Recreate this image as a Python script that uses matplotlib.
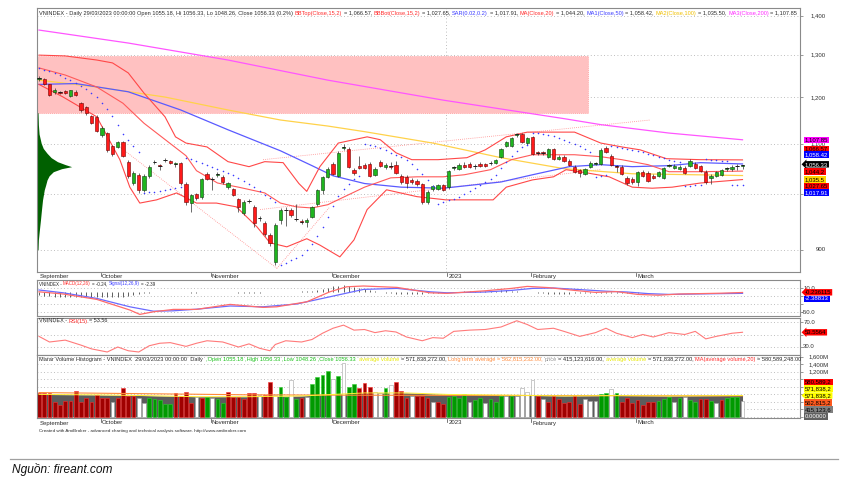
import numpy as np
import matplotlib
matplotlib.use("Agg")
import matplotlib.pyplot as plt
from matplotlib.patches import Rectangle
from matplotlib.lines import Line2D
from matplotlib.transforms import blended_transform_factory

W, H = 842, 478
FONT = 'Liberation Sans'
plt.rcParams['font.family'] = [FONT, 'DejaVu Sans']

# ---------------- data ----------------
opens = [1243,1242,1230,1212,1212,1214,1203,1213,1187,1178,
         1159,1157,1117,1122,1095,1093,1103,1063,1021,1037,
         1008,1035,1062,1056,1066,1065,1058,1060,1020,983,
         1000,994,1039,1029,1037,1033,1013,1010,991,965,
         986,976,955,946,926,880,952,970,971,954,
         950,948,957,982,1008,1033,1059,1035,1091,1089,
         1047,1055,1057,1059,1037,1063,1052,1054,1056,1035,
         1033,1027,1025,1019,985,1010,1010,1017,1013,1051,
         1049,1057,1059,1054,1059,1059,1060,1060,1073,1095,
         1095,1118,1120,1101,1113,1082,1082,1073,1089,1069,
         1073,1065,1053,1047,1039,1053,1059,1059,1091,1075,
         1054,1053,1031,1029,1023,1043,1041,1035,1035,1031,
         1055,1051,1049,1051,1055,1059,1055,1043,1031,1035,
         1037,1049,1049,1054,1055.18]
highs = [1250,1246,1232,1221,1215,1216,1218,1216,1190,1180,
         1162,1160,1136,1125,1098,1106,1106,1066,1044,1040,
         1038,1056,1066,1058,1070,1067,1063,1062,1022,1000,
         1002,1031,1042,1033,1042,1036,1023,1012,993,988,
         990,979,960,950,929,946,973,975,973,982,
         953,955,977,1010,1035,1052,1062,1085,1100,1092,
         1050,1075,1060,1062,1052,1066,1060,1063,1064,1038,
         1036,1030,1028,1021,1007,1018,1020,1020,1047,1055,
         1060,1063,1062,1058,1062,1061,1064,1069,1091,1105,
         1113,1122,1123,1114,1115,1085,1084,1091,1091,1076,
         1076,1068,1056,1049,1051,1064,1063,1090,1094,1078,
         1057,1056,1034,1032,1045,1046,1044,1038,1045,1053,
         1059,1058,1056,1054,1068,1062,1057,1046,1038,1045,
         1049,1053,1056,1058,1056.33]
lows = [1238,1228,1203,1208,1208,1207,1200,1203,1168,1162,
        1141,1124,1113,1083,1075,1090,1072,1030,1018,1002,
        1004,1030,1058,1046,1062,1058,1052,1018,980,966,
        988,990,1026,1008,1033,1020,1010,996,966,962,
        983,939,950,924,907,874,945,942,958,950,
        945,940,955,978,1000,1030,1036,1033,1086,1050,
        1036,1048,1048,1032,1034,1052,1049,1049,1038,1019,
        1012,1020,1016,982,982,1006,1008,1005,1010,1046,
        1046,1050,1050,1048,1052,1052,1056,1058,1070,1092,
        1093,1114,1101,1098,1076,1076,1077,1070,1066,1066,
        1062,1054,1040,1033,1036,1050,1056,1057,1080,1054,
        1042,1036,1018,1020,1016,1032,1022,1028,1032,1029,
        1052,1048,1046,1038,1052,1048,1042,1020,1020,1032,
        1034,1045,1044,1046,1048.26]
closes = [1245,1230,1206,1218,1211,1210,1216,1205,1172,1166,
          1144,1127,1133,1087,1079,1103,1075,1035,1041,1008,
          1035,1053,1063,1054,1067,1061,1060,1021,985,998,
          993,1029,1029,1028,1039,1023,1021,998,976,985,
          987,947,956,928,911,943,971,971,961,953,
          948,952,975,1008,1033,1049,1039,1081,1093,1053,
          1041,1051,1051,1035,1049,1055,1057,1053,1041,1022,
          1021,1023,1019,985,1004,1016,1017,1008,1045,1052,
          1057,1053,1053,1055,1055,1055,1061,1067,1089,1103,
          1111,1120,1104,1111,1079,1080,1080,1089,1069,1073,
          1065,1057,1043,1041,1049,1061,1060,1087,1083,1057,
          1053,1039,1021,1023,1043,1035,1025,1031,1043,1051,
          1056,1055,1053,1041,1065,1051,1045,1023,1035,1043,
          1047,1050,1053,1055,1056.33]

sar = [1269,1265,1261,1256,1251,1246,1240,1234,1227,1220,1211,1200,1188,1174,1158,1140,1120,1108,1095,1082,
       1002,1003,1004,1006,1008,1010,1012,1014,
       1070,1068,1064,1060,1056,1052,1048,1044,1040,1036,1031,1025,1019,1013,1006,999,992,985,
       875,878,882,886,892,900,910,923,939,958,978,996,1010,1020,1028,1034,
       1099,1098,1094,1090,1086,1081,1077,1072,1066,1058,1048,1038,1027,1016,
       982,985,988,991,995,1000,1005,1011,1017,1022,1028,1037,1050,1063,1075,1085,1093,1098,
       1123,1122,1120,1118,1115,1112,1108,1104,1099,1094,1088,1082,
       1033,1034,1036,
       1094,1093,1091,1089,1087,1085,1082,1079,1076,1073,1070,1067,1064,1062,
       1016,1016,1017,1017,
       1068,1067,1066,1065,1064,
       1017.5,1017.7,1017.91]

ma200_x = [0, 17, 36, 55, 77, 100, 107, 120, 134]
ma200_v = [1363, 1330, 1288, 1240, 1194, 1153, 1140, 1122, 1107.85]
ma100_x = [0, 11, 24, 36, 46, 55, 62, 75, 88, 100, 113, 134]
ma100_v = [1240, 1224, 1201, 1172, 1150, 1137, 1125, 1101, 1071, 1049, 1039, 1035.5]
ma50_x = [0, 7, 17, 27, 36, 46, 52, 56, 62, 69, 77, 88, 94, 101, 107, 113, 120, 126, 134]
ma50_v = [1230, 1232, 1213, 1172, 1129, 1085, 1055, 1035, 1020, 1013, 1011, 1023, 1037, 1053, 1057, 1053, 1055, 1061, 1058.42]
ma20_x = [0, 5, 11, 16, 20, 25, 28, 30, 34, 38, 43, 46, 49, 52, 55, 62, 67, 72, 77, 81, 86, 90, 94, 102, 107, 111, 116, 120, 126, 134]
ma20_v = [1269, 1252, 1224, 1187, 1143, 1100, 1075, 1045, 1021, 1013, 1002, 983, 976, 974, 980, 1013, 1031, 1033, 1033, 1037, 1047, 1067, 1077, 1077, 1073, 1067, 1057, 1043, 1043, 1044.2]
bbtop_x = [0, 5, 11, 14, 17, 20, 24, 26, 28, 32, 36, 40, 43, 46.5, 49.5, 51, 53.5, 57, 62.5, 65, 68, 71, 76, 81.5, 85, 89, 93, 98, 102, 107, 111, 114.5, 119.5, 126, 134]
bbtop_v = [1300, 1298, 1288, 1281, 1257, 1210, 1157, 1114, 1101, 1093, 1063, 1053, 1063, 1061, 1020, 1005, 1053, 1101, 1114, 1108, 1081, 1067, 1067, 1071, 1087, 1114, 1124, 1124, 1124, 1101, 1093, 1087, 1069, 1067, 1066.57]
bbbot_x = [0, 4.6, 11, 15.4, 17.3, 19.2, 22.4, 26.2, 30, 33.8, 37.6, 41.5, 44, 47.2, 51, 53.5, 57.3, 60, 62.5, 66.2, 72, 77.5, 86.5, 89, 94, 98, 100.4, 104.2, 108.6, 113, 116.8, 120.6, 126, 134]
bbbot_v = [1230, 1201, 1157, 1067, 1013, 983, 989, 1002, 983, 983, 976, 940, 912, 905, 919, 908, 888, 917, 971, 1008, 995, 989, 989, 1013, 1027, 1033, 1047, 1041, 1033, 1013, 1011, 1013, 1021, 1027.65]

# manually drawn trend lines: (bar, price) -> (bar, price)
trend_lines = [((15.4, 1093), (45.3, 869)), ((45.3, 869), (55.4, 976)),
               ((42.7, 1067), (116.4, 1150)), ((42.1, 971), (106.9, 1047))]
zone_bars = (-0.4, 104.6)
zone_prices = (1166, 1297)

# volume-at-price profile (relative)
vp_prices = [900, 917, 935, 952, 971, 989, 1008, 1017, 1027, 1035, 1043, 1049, 1053, 1057, 1063, 1071, 1080, 1090, 1101, 1120, 1140, 1166]
vp_volume = [3, 4, 7, 10, 13, 16, 21, 25, 29, 35, 47, 71, 100, 82, 59, 41, 29, 18, 12, 6, 4, 3]

macd_x = [0, 4.6, 11, 17.3, 19.2, 21.8, 25.6, 30, 36.4, 42.7, 45.3, 51, 55.4, 58.6, 61.8, 68.2, 74.5, 77.7, 85, 90, 93, 97, 102, 106, 110, 114, 118, 122, 126, 130, 134]
macd_v = [1.5, -4, -17.5, -44, -55, -48.5, -42.5, -42.5, -30, -37.5, -36, -23.5, 1.5, 14, 16, 12.5, -1, -2.5, 4, 10, 15, 12, 5, 0, 2, -5, -7, -4, -3, -2, -0.24]
signal_x = [0, 4.6, 11, 17.3, 21.8, 25.6, 30, 36.4, 42.7, 49.1, 55.4, 61.8, 68.2, 74.5, 77.7, 85, 90, 94, 98, 103, 108, 112, 116, 120, 125, 130, 134]
signal_v = [6, -1, -15, -36, -47, -46, -42, -34, -36, -29, -11, 7.5, 10, 1.5, -1, 1, 5, 10, 11, 7, 3, 1, -3, -5, -4, -3, -2.39]
macd_hist = [-7, -9, -10, -11, -12, -12, -12, -12, -12, -12, -12, -12, -12, -12, -12, -12, -11, -10, -7, -4,
             -2, -1, 1, 2, 2, 2, 1, 1, 0, -1, -1, 0, 1, 1, 2, 2, 1, 0, -1, -2, -2, -1, -1, 0, 0, 0, 1, 2, 2, 2, 3, 3, 4,
             6, 9, 12, 15, 17, 18, 16, 14, 11, 8, 5, 3,
             1, -1, -2, -3, -4, -4, -4, -3, -3, -2, -2, -1,
             0, 1, 2, 2, 3, 3, 3, 3, 3, 4, 4, 5, 5, 4, 3, 2, 1, 0, -1, -2,
             -3, -3, -3, -3, -3, -2, -2, -1, -1, -1, -1, -2, -2, -2, -2, -2, -1, -1, 0, 0,
             0, 0, 1, 1, 1, 1, 1, 1, 0, 0, 0, 1, 1, 1, 2, 2, 2, 2]

rsi_x = [0, 2, 5, 8, 10, 13, 15, 17, 19, 21, 23, 25, 28, 30, 32, 35, 38, 40, 42, 44, 45, 47, 50, 52, 54, 56, 58, 60, 62, 64, 66, 68, 70, 73, 75, 77, 79, 82, 85, 88, 91, 93, 95, 98, 100, 103, 106, 108, 110, 113, 115, 117, 120, 123, 125, 127, 129, 132, 134]
rsi_v = [47, 38, 41, 33, 27, 22, 30, 24, 22, 32, 36, 37, 31, 36, 40, 38, 30, 35, 28, 24, 34, 40, 38, 42, 52, 60, 65, 57, 58, 53, 56, 54, 46, 40, 45, 44, 55, 57, 58, 62, 72, 66, 58, 60, 55, 47, 53, 60, 52, 45, 50, 46, 53, 50, 55, 43, 47, 52, 53.56]

volume_m = [631, 631, 649, 409, 320, 427, 427, 693, 409, 498,
            409, 587, 498, 498, 409, 498, 764, 560, 560, 498,
            364, 498, 471, 453, 347, 347, 631, 560, 658, 364,
            542, 498, 542, 498, 471, 382, 676, 542, 524, 471,
            631, 649, 587, 587, 924, 587, 809, 524, 987, 471,
            498, 524, 871, 1076, 1120, 1235, 1004, 1093, 1431, 809,
            871, 782, 898, 809, 658, 649, 764, 853, 942, 693,
            516, 560, 560, 560, 498, 409, 409, 347, 524, 560,
            498, 604, 409, 453, 498, 364, 471, 409, 560, 560,
            560, 560, 764, 676, 987, 560, 471, 409, 560, 471,
            382, 409, 560, 347, 471, 427, 427, 613, 649, 738,
            649, 409, 498, 364, 453, 320, 391, 391, 427, 471,
            542, 409, 498, 542, 453, 409, 471, 471, 436, 364,
            453, 498, 542, 542, 415]
# bar colour class per day: r = dark red, g = green, w = white
volume_kind = list("rrrrrrrrrrrrrr" "w" "rrrr" "ww" "ggggg" "rrrr" "w" "r" "g" "w" "gg"
                   "rrrrrr" "w" "rr" "w" "gg" "w" "g" "r" "w" "gggg" "w" "g" "w" "gg"
                   "rrr" "ww" "g" "w" "rrr" "w" "rrr" "w" "rr" "gggg" "w" "gg" "w" "ggg"
                   "w" "g" "wwww" "r" "w" "rrrrrrr" "www" "gg" "w" "g" "rrrrrrr" "ggg"
                   "w" "g" "w" "gg" "rr" "g" "w" "r" "ggg" "w")
avgvol_x = [0, 10, 20, 30, 40, 50, 56, 62, 70, 78, 90, 100, 110, 120, 134]
avgvol_v = [600, 590, 570, 540, 540, 560, 600, 640, 640, 600, 580, 560, 570, 560, 571.84]
ltavg_x = [0, 20, 40, 60, 80, 100, 134]
ltavg_v = [650, 620, 590, 580, 575, 570, 562.82]

month_bars = [12, 33, 56, 78, 94, 114]
month_names = ['October', 'November', 'December', '2023', 'February', 'March']

# ---------------- figure ----------------
n = len(closes)
xs = np.arange(n)
O, Hh, L, C = map(np.asarray, (opens, highs, lows, closes))
kinds = (volume_kind + ['w'] * n)[:n]

fig = plt.figure(figsize=(W / 100, H / 100), dpi=100)
fig.patch.set_facecolor('white')

def axes_px(left, top, right, bottom):
    return fig.add_axes([left / W, 1 - bottom / H, (right - left) / W, (bottom - top) / H])

X0, X1 = -0.38, 144.95
ax_p = axes_px(37, 8, 800, 272)
ax_m = axes_px(37, 280, 800, 316)
ax_r = axes_px(37, 318, 800, 355)
ax_v = axes_px(37, 355, 800, 418)
GRID = dict(color='#a8a8a8', lw=0.6, linestyle=(0, (1, 3)))
for ax in (ax_p, ax_m, ax_r, ax_v):
    ax.set_xlim(X0, X1)
    ax.set_xticks([])
    for s in ax.spines.values():
        s.set_color('#8a8a8a'); s.set_linewidth(0.8)
    ax.tick_params(axis='y', which='both', left=False, right=True, labelleft=False,
                   labelright=False, length=2.5, width=0.5, color='#707070')

# ---- price panel
ax_p.set_yscale('log')
ax_p.set_ylim(863, 1421)
ax_p.yaxis.set_minor_locator(matplotlib.ticker.NullLocator())
p_ticks = [900, 1000, 1100, 1200, 1300, 1400]
ax_p.set_yticks(p_ticks)
for t in p_ticks:
    ax_p.axhline(t, zorder=0.5, **GRID)
ax_p.axvline(77.5, zorder=0.5, **GRID)

ax_p.add_patch(Rectangle((zone_bars[0], zone_prices[0]), zone_bars[1] - zone_bars[0],
                         zone_prices[1] - zone_prices[0], facecolor='#ffc1c1',
                         edgecolor='#ff9a9a', lw=0.6, linestyle=(0, (1, 1.5)), zorder=0.8))
vp = np.asarray(vp_volume) / 100.0 * 6.6
ax_p.fill_betweenx(vp_prices, X0, X0 + vp, color='#006000', lw=0, zorder=1)

for (a, b) in trend_lines:
    ax_p.plot([a[0], b[0]], [a[1], b[1]], color='#ff8c8c', lw=0.6, linestyle=(0, (1, 1.5)), zorder=1.5)

ax_p.plot(ma200_x, ma200_v, color='#ff55ff', lw=0.9, zorder=2)
ax_p.plot(ma100_x, ma100_v, color='#ffd24a', lw=0.9, zorder=2)
ax_p.plot(ma50_x, ma50_v, color='#5a5aff', lw=0.9, zorder=2)
ax_p.plot(bbtop_x, bbtop_v, color='#ff4848', lw=0.8, zorder=2)
ax_p.plot(bbbot_x, bbbot_v, color='#ff4848', lw=0.8, zorder=2)
ax_p.plot(ma20_x, ma20_v, color='#ff5a5a', lw=0.8, zorder=2)

ax_p.vlines(xs, L, Hh, color='#303030', lw=0.5, zorder=3)
up = C >= O
bot = np.minimum(O, C)
hgt = np.abs(C - O)
ax_p.bar(xs[up], hgt[up], bottom=bot[up], width=0.62, color='#1fb51f', edgecolor='#104010', lw=0.4, zorder=4)
ax_p.bar(xs[~up], hgt[~up], bottom=bot[~up], width=0.62, color='#ff1a1a', edgecolor='#700000', lw=0.4, zorder=4)
doji = hgt < 2.5
ax_p.hlines((O + C)[doji] / 2, xs[doji] - 0.35, xs[doji] + 0.35, color='#202020', lw=0.7, zorder=4.5)
ax_p.scatter(xs, sar, s=1.3, color='#3a3aff', lw=0, zorder=5)

# ---- MACD panel
ax_m.set_ylim(-59, 31)
m_ticks = [10, -10, -30, -50]
ax_m.set_yticks(m_ticks)
for t in m_ticks:
    ax_m.axhline(t, zorder=0.5, **GRID)
ax_m.vlines(xs, 0, macd_hist, color='#202020', lw=0.5, zorder=2)
ax_m.plot(signal_x, signal_v, color='#6b6bff', lw=0.9, zorder=3)
ax_m.plot(macd_x, macd_v, color='#ff6b6b', lw=0.9, zorder=3)

# ---- RSI panel
ax_r.set_ylim(17.2, 76.4)
r_ticks = [70, 50, 30]
ax_r.set_yticks(r_ticks)
for t in r_ticks:
    ax_r.axhline(t, zorder=0.5, **GRID)
ax_r.plot(rsi_x, rsi_v, color='#ff7a7a', lw=0.8, zorder=3)

# ---- Volume panel
ax_v.set_ylim(-27, 1650)
v_ticks = list(range(0, 1601, 200))
ax_v.set_yticks(v_ticks)
for t in v_ticks:
    ax_v.axhline(t, zorder=0.3, **GRID)
ax_v.fill_between(avgvol_x, 0, avgvol_v, color='#5c5c5c', lw=0, zorder=1)
vol = np.asarray(volume_m, dtype=float)
fc = {'r': '#a00000', 'g': '#009a00', 'w': '#ffffff'}
ec = {'r': '#ff3030', 'g': '#30d030', 'w': '#a0a0a0'}
ax_v.bar(xs, vol, width=0.72, color=[fc[k] for k in kinds], edgecolor=[ec[k] for k in kinds], lw=0.4, zorder=2)
ax_v.plot(ltavg_x, ltavg_v, color='#ff8a3a', lw=0.8, zorder=3)
ax_v.plot(avgvol_x, avgvol_v, color='#ffee33', lw=0.7, zorder=3)

# ---------------- text helpers ----------------
renderer = fig.canvas.get_renderer()
FS = 4.3

def put(x, y, s, size=FS, color='black', ha='left', va='center', **kw):
    return fig.text(x / W, 1 - y / H, s, fontsize=size, color=color, ha=ha, va=va, **kw)

def text_w(s, size, **kw):
    t = fig.text(0, 0, s, fontsize=size, **kw)
    w = t.get_window_extent(renderer).width
    t.remove()
    return w

def multicolor(x0, y, parts, target_w=None, size=FS, **kw):
    def layout(sz):
        sp = text_w('a a', sz, **kw) - text_w('aa', sz, **kw)
        items, x = [], 0.0
        for s, c in parts:
            lead = len(s) - len(s.lstrip(' '))
            trail = len(s) - len(s.rstrip(' '))
            core = s.strip(' ')
            x += lead * sp
            items.append((x, core, c))
            if core:
                x += text_w(core, sz, **kw)
            x += trail * sp
        return items, x
    if target_w:
        _, tot = layout(size)
        size = size * target_w / tot
    items, _ = layout(size)
    for x, core, c in items:
        if core:
            put(x0 + x, y, core, size=size, color=c, **kw)

K = '#2a2a2a'
RED, BLUE, YEL, MAG = '#ff2a2a', '#3b3bff', '#f0c000', '#ff2aff'
multicolor(39, 13, [
    ("VNINDEX - Daily 29/03/2023 00:00:00 Open 1055.18, Hi 1056.33, Lo 1048.26, Close 1056.33 (0.2%) ", K),
    ("BBTop(Close,15,2)", RED), (" = 1,066.57, ", K),
    ("BBBot(Close,15,2)", RED), (" = 1,027.65, ", K),
    ("SAR(0.02,0.2)", BLUE), (" = 1,017.91, ", K),
    ("MA(Close,20)", RED), (" = 1,044.20, ", K),
    ("MA1(Close,50)", BLUE), (" = 1,058.42, ", K),
    ("MA2(Close,100)", YEL), (" = 1,035.50, ", K),
    ("MA3(Close,200)", MAG), (" = 1,107.85", K)], target_w=756)
multicolor(39, 284, [("VNINDEX - ", K), ("MACD(12,26)", RED), (" = -0.24, ", K),
                     ("Signal(12,26,9)", BLUE), (" = -2.39", K)], target_w=117)
multicolor(39, 321, [("VNINDEX - ", K), ("RSI(15)", RED), (" = 53.56", K)], target_w=68)
multicolor(39, 359, [
    ("Marar Volume Histogram - VNINDEX  29/03/2023 00:00:00  Daily  ", K),
    (",Open 1055.18 ,High 1056.33 ,Low 1048.26 ,Close 1056.33  ", '#18c018'),
    ("average volume", '#e8e800'), (" = 571,838,272.00, ", K),
    ("Long term average = 562,815,232.00, ", '#ff8a3a'),
    ("price", '#909090'), (" = 415,123,616.00, ", K),
    ("average volume", '#e8e800'), (" = 571,838,272.00, ", K),
    ("MA(average volume,20)", RED), (" = 580,589,248.00", K)], target_w=758)
multicolor(39, 431, [("Created with AmiBroker - advanced charting and technical analysis software. http://www.amibroker.com", K)],
           target_w=200, size=3.0)

# y tick labels (right side); labels hidden by value boxes in the reference are not drawn
def ylabels(ax, vals, texts, x_right):
    tr = blended_transform_factory(fig.transFigure, ax.transData)
    for v, s in zip(vals, texts):
        fig.text(x_right / W, v, s, transform=tr, fontsize=FS, color='#303030', ha='right', va='center')

ylabels(ax_p, [900, 1100, 1200, 1300, 1400], ['900', '1,100', '1,200', '1,300', '1,400'], 826)
ylabels(ax_m, [10, -50], ['10.0', '-50.0'], 815)
ylabels(ax_r, [70, 30], ['70.0', '30.0'], 815)
ylabels(ax_v, [1600, 1400, 1200], ['1,600M', '1,400M', '1,200M'], 829)

def rlabel(y, s, fcol, tcol='black', arrow=False):
    fig.text(805 / W, 1 - y / H, s, fontsize=FS, color=tcol, ha='left', va='center', zorder=10,
             bbox=dict(boxstyle=('larrow,pad=0.12' if arrow else 'square,pad=0.15'), fc=fcol, ec=fcol, lw=0))

rlabel(140, '1,107.85', '#ff00ff')
rlabel(149, '1,066.57', '#ff0000')
rlabel(154.5, '1,058.42', '#0000ff', 'white')
rlabel(164.3, '1,056.33', '#000000', 'white', arrow=True)
rlabel(171.7, '1,044.2', '#ff0000')
rlabel(179.3, '1,035.5', '#ffd700')
rlabel(186, '1,027.65', '#ff0000')
rlabel(192.3, '1,017.91', '#0000ff', 'white')
rlabel(292.3, '-0.236115', '#ff0000', arrow=True)
rlabel(299, '-2.38833', '#0000ff', 'white')
rlabel(332.3, '53.5564', '#ff0000', arrow=True)
rlabel(382, '580,589,2', '#ff0000')
rlabel(388.5, '571,838,2', '#ffff00')
rlabel(395.5, '571,838,2', '#ffff00', arrow=True)
rlabel(402.5, '562,815,2', '#ff5a1e')
rlabel(409.5, '415,123,6', '#808080')
rlabel(416.5, '0.00000', '#606060', 'white')

# month labels under price panel and volume panel
def month_axis(y_top, y_text):
    put(40, y_text, 'September', color=K)
    for b, name in zip(month_bars, month_names):
        xp = 39 + 5.25 * b - 1.5
        fig.add_artist(Line2D([xp / W, xp / W], [1 - y_top / H, 1 - (y_top + 3.5) / H],
                              color='#404040', lw=0.5))
        put(xp + 1.2, y_text, name, color=K)

month_axis(272.5, 276.5)
month_axis(418.5, 423)

# footer
fig.add_artist(Line2D([10 / W, 838 / W], [1 - 459 / H, 1 - 459 / H], color='#a0a0a0', lw=0.9))
multicolor(12, 469, [("Nguồn: fireant.com", '#111111')], target_w=100, size=8.5, style='italic')

fig.savefig('out.png', dpi=100)
